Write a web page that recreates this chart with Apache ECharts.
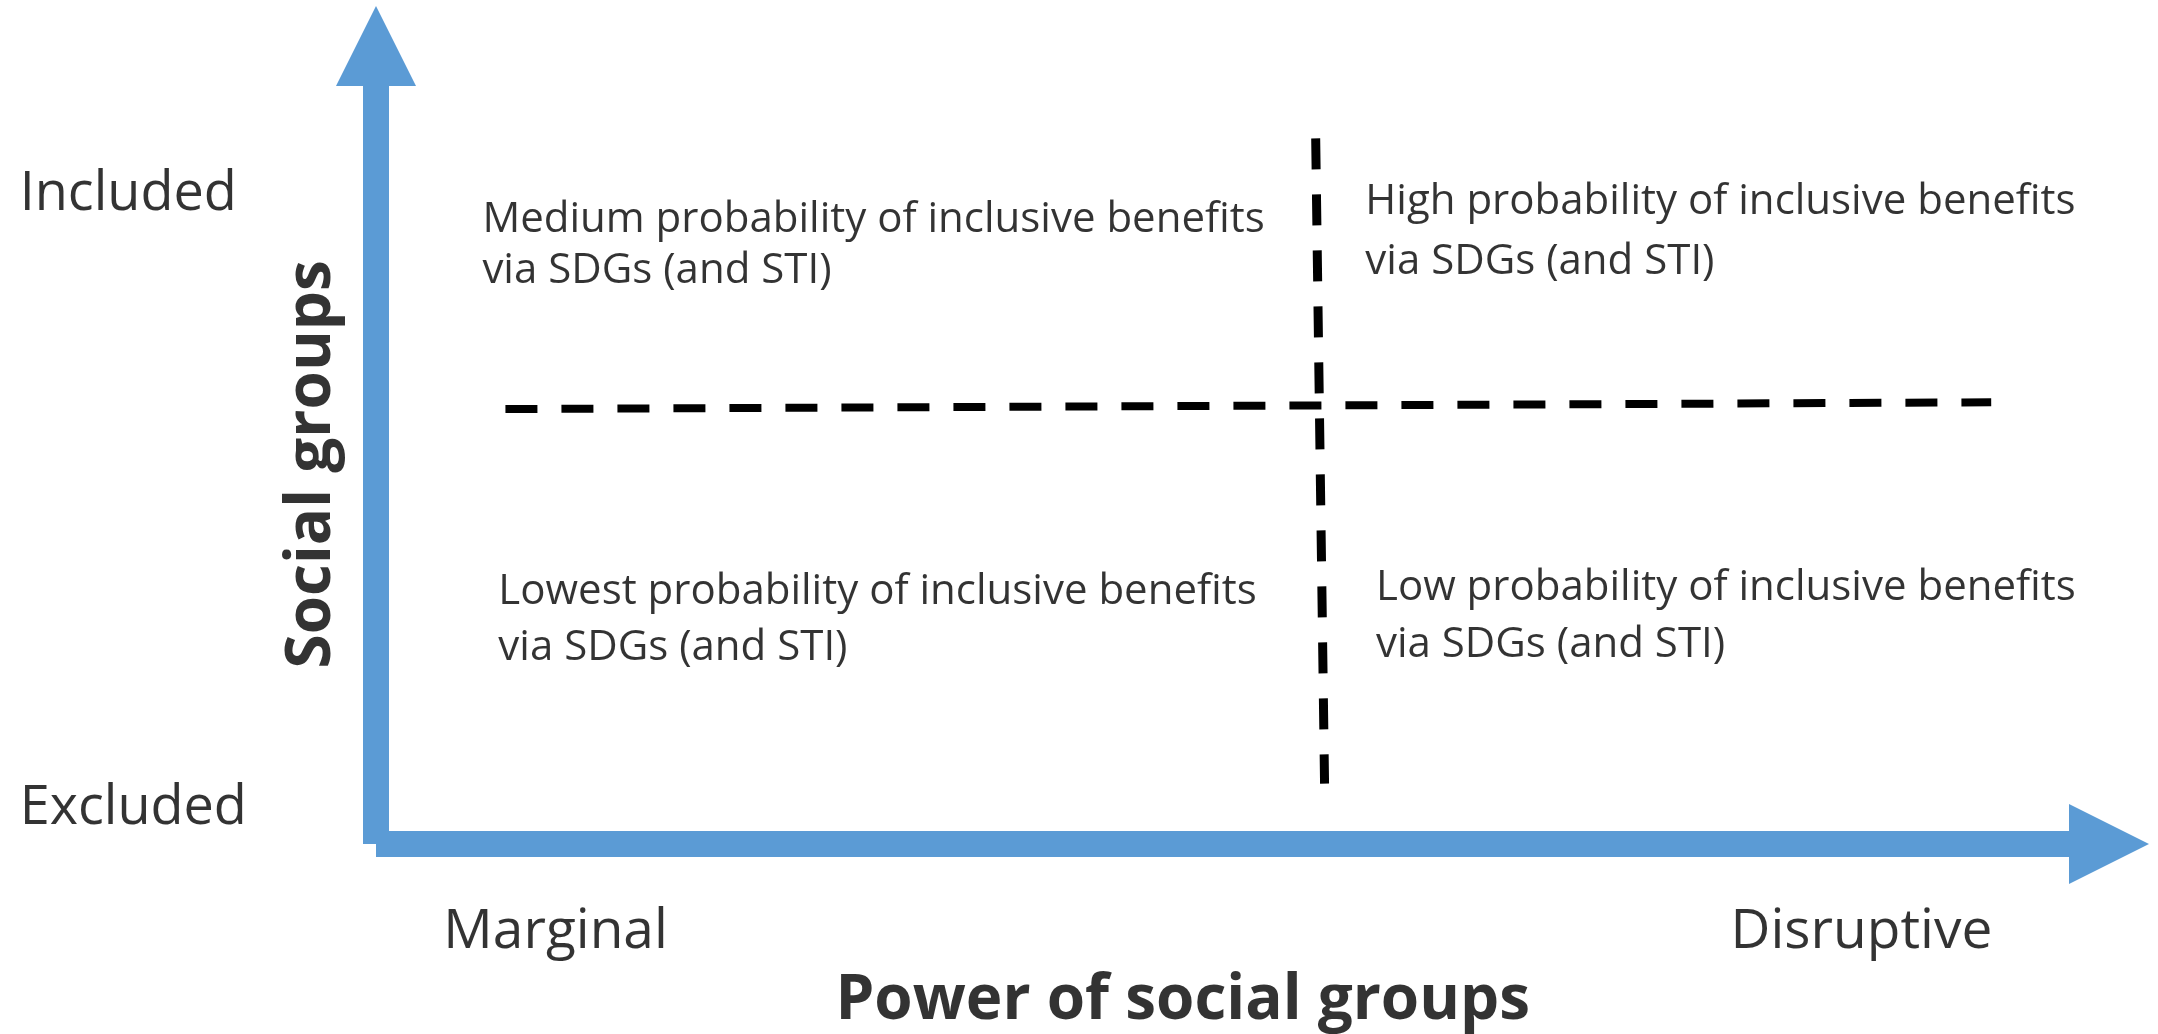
<!DOCTYPE html>
<html>
<head>
<meta charset="utf-8">
<title>Power of social groups</title>
<script src="https://cdn.jsdelivr.net/npm/echarts/dist/echarts.min.js"></script>
<style>
    html, body { margin: 0; padding: 0; background: #fff; }
    #main { width: 2158px; height: 1034px; }
</style>
</head>
<body>
<div id="main"></div>
<script>
// diagram units: origin of the two arrows is (0,0), arrow tips at 10
var axisArrows = [[0, 0, 0, 10], [0, 0, 10, 0]];          // [x0, y0, x1, y1]
var hDivider = [[0.73, 5.19], [9.11, 5.27]];
var vDivider = [[5.30, 8.42], [5.35, 0.72]];

var quadrantLines = [
    ['Medium probability of inclusive benefits', 0.60, 7.45],
    ['via SDGs (and STI)', 0.60, 6.84],
    ['High probability of inclusive benefits', 5.58, 7.66],
    ['via SDGs (and STI)', 5.58, 6.95],
    ['Lowest probability of inclusive benefits', 0.69, 3.01],
    ['via SDGs (and STI)', 0.69, 2.34],
    ['Low probability of inclusive benefits', 5.64, 3.05],
    ['via SDGs (and STI)', 5.64, 2.37]
];
var yTicks = [['Included', -2.01, 7.75], ['Excluded', -2.01, 0.42]];
var xTicks = [['Marginal', 0.38, -1.05], ['Disruptive', 7.64, -1.05]];
var xTitle = ['Power of social groups', 4.55, -1.88];
var yTitle = ['Social groups', -0.36, 4.53];

var BLUE = '#5B9BD5';
var FONT = '"Open Sans", "Noto Sans", sans-serif';

var myChart = echarts.init(document.getElementById('main'), null, {renderer: 'canvas'});

var toPoints = function (list) {
    return list.map(function (r) {
        return {name: r[0], value: [r[1], r[2]]};
    });
};

var arrowItem = function (params, api) {
    var s = api.coord([api.value(0), api.value(1)]);
    var e = api.coord([api.value(2), api.value(3)]);
    var dx = e[0] - s[0], dy = e[1] - s[1];
    var len = Math.sqrt(dx * dx + dy * dy);
    var ux = dx / len, uy = dy / len;
    var nx = -uy, ny = ux;
    var hw = 13, headW = 40, headL = 80;
    var b = [e[0] - ux * headL, e[1] - uy * headL];
    var pts = [
        [s[0] + nx * hw, s[1] + ny * hw],
        [b[0] + nx * hw, b[1] + ny * hw],
        [b[0] + nx * headW, b[1] + ny * headW],
        e,
        [b[0] - nx * headW, b[1] - ny * headW],
        [b[0] - nx * hw, b[1] - ny * hw],
        [s[0] - nx * hw, s[1] - ny * hw]
    ];
    return {type: 'polygon', shape: {points: pts}, style: {fill: BLUE}};
};

var textSeries = function (data, size, weight, rotate, align) {
    return {
        type: 'scatter',
        data: toPoints(data),
        symbolSize: 0,
        clip: false,
        silent: true,
        label: {
            show: true,
            formatter: '{b}',
            position: [0, 0],
            align: align,
            verticalAlign: 'middle',
            rotate: rotate,
            color: '#000',
            fontFamily: FONT,
            fontSize: size,
            fontWeight: weight
        }
    };
};

var option = {
    animation: false,
    backgroundColor: '#fff',
    grid: {left: 376, right: 9, top: 6, bottom: 190},
    xAxis: {type: 'value', min: 0, max: 10, show: false},
    yAxis: {type: 'value', min: 0, max: 10, show: false},
    series: [
        {
            type: 'line',
            data: hDivider,
            symbol: 'none',
            lineStyle: {color: '#000', width: 8, type: [32, 24], cap: 'butt'}
        },
        {
            type: 'line',
            data: vDivider,
            symbol: 'none',
            lineStyle: {color: '#000', width: 9, type: [31, 25], cap: 'butt'}
        },
        {
            type: 'custom',
            data: axisArrows,
            clip: false,
            renderItem: arrowItem
        },
        textSeries(quadrantLines, 42, 'normal', 0, 'left'),
        textSeries(yTicks, 54, 'normal', 0, 'left'),
        textSeries(xTicks, 55, 'normal', 0, 'left'),
        textSeries([xTitle], 62, 'bold', 0, 'center'),
        textSeries([yTitle], 62, 'bold', 90, 'center')
    ]
};
myChart.setOption(option);
</script>
</body>
</html>
